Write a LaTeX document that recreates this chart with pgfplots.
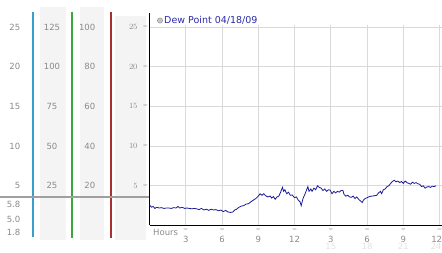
\documentclass[border=0pt]{standalone}
\usepackage{pgfplots}
\pgfplotsset{compat=1.18}
\usetikzlibrary{calc}
\usepackage{fontspec}
\setmainfont{DejaVu Sans}
\definecolor{tickgray}{HTML}{8A8A8A}
\definecolor{faint}{HTML}{E2E2E2}
\definecolor{bgcol}{HTML}{F4F4F4}
\definecolor{gridc}{HTML}{D9D9D9}
\definecolor{tealc}{HTML}{3A9FC8}
\definecolor{greenc}{HTML}{3AA83A}
\definecolor{redc}{HTML}{A83030}
\definecolor{linec}{HTML}{1A1A9A}
\definecolor{legc}{HTML}{2A2AA8}
\newcommand{\nf}{\fontsize{8.5}{10}\selectfont}
\newcommand{\mk}{{\fontsize{6}{6}\selectfont\color{gray!60}≈}}
\begin{document}
\begin{tikzpicture}
\useasboundingbox (0pt,0pt) rectangle (442pt,253pt);
% left panel backgrounds
\fill[bgcol] (40pt,13pt) rectangle (66pt,246pt);
\fill[bgcol] (80pt,13pt) rectangle (104pt,246pt);
\fill[bgcol] (115pt,13pt) rectangle (146pt,237pt);
% coloured column lines
\draw[tealc, line width=1.1pt] (33pt,241pt) -- (33pt,16pt);
\draw[greenc, line width=1.1pt] (72pt,241pt) -- (72pt,15pt);
\draw[redc, line width=1.1pt] (111pt,241pt) -- (111pt,15pt);
\draw[gray!75, line width=1.6pt] (0pt,56pt) -- (149pt,56pt);
% left panel numbers
\foreach \v/\a/\b in {25/125/100, 20/100/80, 15/75/60, 10/50/40, 5/25/20}{
  \node[anchor=east, inner sep=0, text=tickgray, font=\nf] at (20.5pt,{(27.5+7.94*\v)*1pt}) {\v};
  \node[anchor=center, inner sep=0, text=tickgray, font=\nf] at (52pt,{(27.5+7.94*\v)*1pt}) {\a};
  \node[anchor=east, inner sep=0, text=tickgray, font=\nf] at (95.5pt,{(27.5+7.94*\v)*1pt}) {\b};
}
\node[anchor=east, inner sep=0, text=tickgray, font=\nf] at (20.5pt,49pt) {5.8};
\node[anchor=east, inner sep=0, text=tickgray, font=\nf] at (20.5pt,34pt) {5.0};
\node[anchor=east, inner sep=0, text=tickgray, font=\nf] at (20.5pt,21pt) {1.8};
\begin{axis}[
  at={(149.5pt,27.5pt)}, anchor=south west,
  scale only axis, width=292.5pt, height=212.5pt,
  xmin=0, xmax=24.2, ymin=0, ymax=26.76,
  axis x line=bottom, axis y line=left,
  axis line style={-, black, line width=1.1pt},
  xtick={3,6,...,24}, xticklabels={3,6,9,12,3,6,9,{\hbox to 0pt{\hss 12\kern-2.5pt}}},
  ytick={5,10,...,25},
  major tick length=0,
  ymajorgrids=true, grid style={gridc, line width=0.8pt},
  tick label style={font=\nf, text=tickgray},
  xticklabel style={anchor=center, inner sep=0, yshift=-13.5pt},
  yticklabel style={anchor=east, inner sep=0, xshift=-11.8pt},
  clip=false,
]
\pgfplotsinvokeforeach{3,6,9,12,15,18,21,24}{
  \draw[gridc, line width=0.8pt] (axis cs:#1,0) -- (axis cs:#1,25.3);
  \node[inner sep=0] at ($(axis cs:#1,0)+(0pt,-5pt)$) {\mk};
}
\pgfplotsinvokeforeach{5,10,15,20,25}{
  \node[inner sep=0] at ($(axis cs:0,#1)+(-4pt,0pt)$) {\mk};
}
\pgfplotsinvokeforeach{15,18,21}{
  \node[anchor=center, inner sep=0, text=faint, font=\nf] at ($(axis cs:#1,0)+(0pt,-20.5pt)$) {#1};
}
\node[anchor=east, inner sep=0, text=faint, font=\nf] at ($(axis cs:24,0)+(2pt,-20.5pt)$) {24};
\addplot[linec, line width=0.8pt, sharp plot, mark=none] coordinates {
(0.0,2.6) (0.15,2.3) (0.3,2.4) (0.45,2.15) (0.6,2.3) (0.8,2.2) (1.0,2.25) (1.2,2.15)
(1.4,2.2) (1.6,2.2) (1.8,2.15) (2.0,2.25) (2.2,2.2) (2.35,2.4) (2.5,2.2) (2.7,2.3)
(2.9,2.15) (3.1,2.2) (3.3,2.15) (3.5,2.1) (3.7,2.15) (3.9,2.1) (4.1,2.0) (4.3,2.15)
(4.5,1.95) (4.7,2.05) (4.9,1.9) (5.1,2.05) (5.3,1.95) (5.5,2.0) (5.7,1.85) (5.9,1.95)
(6.1,1.75) (6.3,1.9) (6.5,1.7) (6.7,1.65) (6.9,1.7) (7.05,1.95) (7.2,2.05) (7.4,2.3)
(7.6,2.45) (7.8,2.5) (8.0,2.7) (8.2,2.75) (8.4,3.0) (8.6,3.2) (8.8,3.4) (9.0,3.7)
(9.15,4.0) (9.3,3.8) (9.45,4.0) (9.6,3.75) (9.8,3.6) (10.0,3.7) (10.1,3.45) (10.25,3.65)
(10.4,3.3) (10.55,3.6) (10.7,3.7) (10.85,4.2) (11.0,4.8) (11.1,4.3) (11.2,4.5) (11.35,4.0)
(11.5,4.2) (11.65,3.8) (11.8,3.85) (12.0,3.5) (12.15,3.6) (12.3,3.2) (12.45,3.0) (12.55,2.5)
(12.7,3.4) (12.85,3.9) (13.0,4.5) (13.1,4.9) (13.2,4.3) (13.35,4.6) (13.45,4.3) (13.6,4.7)
(13.75,4.5) (13.9,5.0) (14.05,4.8) (14.2,4.7) (14.35,4.4) (14.5,4.6) (14.65,4.3) (14.8,4.5)
(14.95,4.45) (15.1,4.0) (15.25,4.3) (15.4,4.1) (15.55,4.3) (15.7,4.2) (15.85,4.4) (16.0,4.4)
(16.1,3.9) (16.25,3.7) (16.4,3.8) (16.55,3.6) (16.7,3.55) (16.85,3.7) (17.0,3.4) (17.15,3.6)
(17.3,3.3) (17.45,3.1) (17.6,2.9) (17.7,3.2) (17.85,3.4) (18.0,3.5) (18.2,3.65) (18.4,3.7)
(18.6,3.75) (18.8,3.8) (18.95,4.1) (19.1,4.3) (19.2,4.0) (19.35,4.5) (19.5,4.6) (19.65,4.9)
(19.8,5.0) (19.95,5.3) (20.1,5.55) (20.25,5.7) (20.4,5.5) (20.55,5.6) (20.7,5.4) (20.85,5.55)
(21.0,5.3) (21.15,5.6) (21.3,5.4) (21.45,5.3) (21.6,5.2) (21.75,5.45) (21.9,5.3) (22.05,5.4)
(22.2,5.25) (22.35,5.2) (22.5,4.9) (22.65,5.0) (22.8,4.7) (22.95,4.85) (23.1,4.9) (23.25,4.8)
(23.4,4.95) (23.55,4.9) (23.7,5.0)
};
\end{axis}
\node[anchor=west, inner sep=0, text=tickgray, font=\nf] at (153pt,21pt) {Hours};
\filldraw[fill=gray!45, draw=gray!80, line width=0.5pt] (160pt,232.5pt) circle (2.6pt);
\node[anchor=west, inner sep=0, text=legc, font=\fontsize{9.5}{11}\selectfont] at (164pt,232.5pt) {Dew Point 04/18/09};
\end{tikzpicture}
\end{document}
